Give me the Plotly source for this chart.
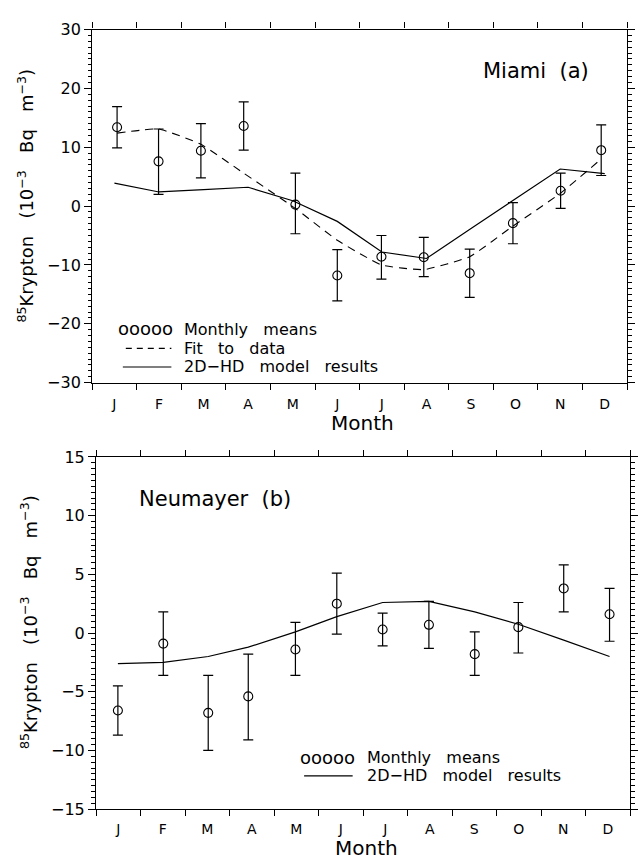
import plotly.graph_objects as go

months = ["J", "F", "M", "A", "M", "J", "J", "A", "S", "O", "N", "D"]
month_centers = [0.5, 1.5, 2.5, 3.5, 4.5, 5.5, 6.5, 7.5, 8.5, 9.5, 10.5, 11.5]
month_edges = list(range(13))

# Miami (a)
miami_x = [0.56, 1.49, 2.44, 3.40, 4.56, 5.50, 6.49, 7.44, 8.47, 9.44, 10.51, 11.42]
miami_mean = [13.4, 7.6, 9.4, 13.6, 0.25, -11.8, -8.6, -8.7, -11.4, -2.9, 2.6, 9.5]
miami_hi = [16.9, 13.1, 14.0, 17.7, 5.6, -7.4, -5.0, -5.3, -7.3, 0.6, 5.6, 13.8]
miami_lo = [9.9, 2.0, 4.8, 9.5, -4.7, -16.1, -12.4, -12.0, -15.5, -6.4, -0.4, 5.2]
miami_fit = [12.4, 13.1, 10.5, 5.6, -0.4, -5.8, -10.0, -10.8, -8.6, -3.4, 2.2, 8.0]
miami_model = [3.9, 2.4, 2.8, 3.2, 0.9, -2.6, -7.8, -8.9, -3.8, 1.2, 6.3, 5.5]

# Neumayer (b)
neu_x = [0.49, 1.51, 2.52, 3.42, 4.48, 5.41, 6.44, 7.48, 8.51, 9.49, 10.51, 11.54]
neu_mean = [-6.6, -0.9, -6.8, -5.4, -1.4, 2.5, 0.3, 0.7, -1.8, 0.5, 3.8, 1.6]
neu_hi = [-4.5, 1.8, -3.6, -1.8, 0.9, 5.1, 1.7, 2.7, 0.1, 2.6, 5.8, 3.8]
neu_lo = [-8.7, -3.6, -10.0, -9.1, -3.6, -0.1, -1.1, -1.3, -3.6, -1.7, 1.8, -0.7]
neu_model = [-2.6, -2.5, -2.0, -1.2, 0.1, 1.4, 2.6, 2.7, 1.8, 0.75, -0.6, -2.0]

FONT = "DejaVu Sans"
BLACK = "black"

fig = go.Figure()


def add_means(x, m, hi, lo, xa, ya):
    fig.add_trace(go.Scatter(
        x=x, y=m, mode="markers", xaxis=xa, yaxis=ya, showlegend=False,
        marker=dict(symbol="circle-open", size=9, color=BLACK, line=dict(width=1.1, color=BLACK)),
        error_y=dict(type="data", symmetric=False,
                     array=[h - v for h, v in zip(hi, m)],
                     arrayminus=[v - l for v, l in zip(m, lo)],
                     color=BLACK, thickness=1.2, width=5),
    ))


# top panel
fig.add_trace(go.Scatter(x=miami_x, y=miami_fit, mode="lines", xaxis="x", yaxis="y",
                         line=dict(color=BLACK, width=1.1, dash="8px,6px", shape="spline", smoothing=0.4),
                         showlegend=False))
fig.add_trace(go.Scatter(x=month_centers, y=miami_model, mode="lines", xaxis="x", yaxis="y",
                         line=dict(color=BLACK, width=1.2), showlegend=False))
add_means(miami_x, miami_mean, miami_hi, miami_lo, "x", "y")

# bottom panel
fig.add_trace(go.Scatter(x=neu_x, y=neu_model, mode="lines", xaxis="x2", yaxis="y2",
                         line=dict(color=BLACK, width=1.2), showlegend=False))
add_means(neu_x, neu_mean, neu_hi, neu_lo, "x2", "y2")


def xaxis_cfg(domain, anchor, standoff):
    return dict(
        domain=domain, anchor=anchor, range=[0, 12],
        tickmode="array", tickvals=month_centers, ticktext=months, ticks="",
        ticklabelstandoff=standoff,
        minor=dict(tickmode="array", tickvals=month_edges, ticks="outside", ticklen=6,
                   tickwidth=1, tickcolor=BLACK),
        showline=True, linecolor=BLACK, linewidth=1.2, mirror="ticks",
        showgrid=False, zeroline=False,
        tickfont=dict(family=FONT, size=14, color=BLACK),
    )


def yaxis_cfg(domain, anchor, rng, dtick, mdtick):
    return dict(
        domain=domain, anchor=anchor, range=rng,
        tickmode="linear", tick0=rng[0], dtick=dtick,
        ticks="outside", ticklen=7, tickwidth=1, tickcolor=BLACK,
        minor=dict(dtick=mdtick, ticks="outside", ticklen=3.5, tickwidth=1, tickcolor=BLACK),
        showline=True, linecolor=BLACK, linewidth=1.2, mirror="ticks",
        showgrid=False, zeroline=False,
        tickfont=dict(family=FONT, size=16, color=BLACK),
    )


W, H = 638, 868


def px_x(p):
    return p / W


def px_y(p):
    return (H - p) / H


fig.update_layout(
    width=W, height=H,
    margin=dict(l=0, r=0, t=0, b=0),
    paper_bgcolor="white", plot_bgcolor="white",
    font=dict(family=FONT, color=BLACK),
    xaxis=xaxis_cfg([px_x(93), px_x(633)], "y", 8),
    yaxis=yaxis_cfg([px_y(382), px_y(21)], "x", [-30, 30], 10, 1),
    xaxis2=xaxis_cfg([px_x(97), px_x(636)], "y2", 7),
    yaxis2=yaxis_cfg([px_y(818), px_y(458)], "x2", [-15, 15], 5, 0.5),
)

ytitle = "<sup>85</sup>Krypton   (10<sup>−3</sup>   Bq   m<sup>−3</sup>)"


def ann(text, x, y, size, xanchor="center", angle=0):
    return dict(text=text, x=px_x(x), y=px_y(y), xref="paper", yref="paper",
                xanchor=xanchor, yanchor="middle", showarrow=False, textangle=angle,
                font=dict(family=FONT, size=size, color=BLACK))


annotations = [
    ann("Miami  (a)", 541, 63, 21),
    ann("Neumayer  (b)", 217, 501, 21),
    ann("Month", 366, 423, 20),
    ann("Month", 370, 858, 20),
    ann(ytitle, 26, 191, 18, angle=-90),
    ann(ytitle, 30, 627, 18, angle=-90),
]

# legend texts
leg_top = [("ooooo", 117, 327), ("Monthly   means", 184, 328),
           ("Fit   to   data", 184, 347), ("2D−HD   model   results", 184, 366)]
leg_bot = [("ooooo", 301, 765), ("Monthly   means", 368, 765),
           ("2D−HD   model   results", 368, 784)]
for t, x, y in leg_top + leg_bot:
    annotations.append(ann(t, x, y, 18 if t == "ooooo" else 16, xanchor="left"))
fig.update_layout(annotations=annotations)

shapes = [
    dict(type="line", xref="paper", yref="paper", x0=px_x(127), x1=px_x(173),
         y0=px_y(347), y1=px_y(347), line=dict(color=BLACK, width=1.1, dash="6px,5px")),
    dict(type="line", xref="paper", yref="paper", x0=px_x(124), x1=px_x(173),
         y0=px_y(366), y1=px_y(366), line=dict(color=BLACK, width=1.1)),
    dict(type="line", xref="paper", yref="paper", x0=px_x(307), x1=px_x(356),
         y0=px_y(784), y1=px_y(784), line=dict(color=BLACK, width=1.1)),
]
fig.update_layout(shapes=shapes)

fig.write_html("out.html")
